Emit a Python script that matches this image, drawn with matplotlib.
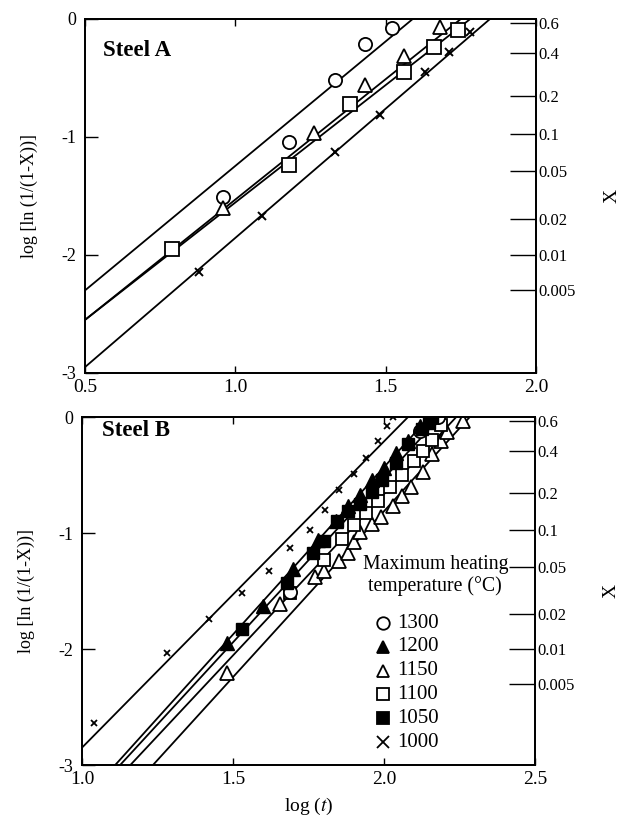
import numpy as np
import matplotlib
matplotlib.use("Agg")
import matplotlib.pyplot as plt

plt.rcParams['font.family'] = ['Liberation Serif', 'DejaVu Serif']
plt.rcParams['mathtext.fontset'] = 'stix'

# ---------------- Steel A ----------------
a_x_1300 = [0.96, 1.18, 1.33, 1.43, 1.52]
a_y_1300 = [-1.51, -1.04, -0.52, -0.21, -0.08]
a_x_1150 = [0.96, 1.26, 1.43, 1.56, 1.68]
a_y_1150 = [-1.60, -0.97, -0.56, -0.31, -0.07]
a_x_1100 = [0.79, 1.18, 1.38, 1.56, 1.66, 1.74]
a_y_1100 = [-1.95, -1.24, -0.72, -0.45, -0.24, -0.09]
a_x_1000 = [0.88, 1.09, 1.33, 1.48, 1.63, 1.71, 1.78]
a_y_1000 = [-2.14, -1.67, -1.13, -0.81, -0.45, -0.28, -0.11]

# fitted lines (slope, intercept) for 1300, 1150, 1100, 1000
a_fit_slope = [2.11, 2.04, 1.99, 2.19]
a_fit_intercept = [-3.355, -3.57, -3.545, -4.045]

# ---------------- Steel B ----------------
b_x_1300 = [1.69, 2.12, 2.18]
b_y_1300 = [-1.51, -0.12, 0.00]
b_x_1200 = [1.48, 1.60, 1.70, 1.78, 1.84, 1.88, 1.92, 1.96, 2.00, 2.04, 2.08, 2.12, 2.15]
b_y_1200 = [-1.95, -1.63, -1.31, -1.06, -0.90, -0.77, -0.67, -0.54, -0.44, -0.31, -0.21, -0.08, 0.00]
b_x_1150 = [1.48, 1.655, 1.77, 1.80, 1.85, 1.88, 1.90, 1.92, 1.96, 1.99, 2.03, 2.06, 2.09,
            2.13, 2.16, 2.19, 2.21, 2.26]
b_y_1150 = [-2.21, -1.61, -1.38, -1.33, -1.24, -1.17, -1.08, -0.99, -0.92, -0.86, -0.77,
            -0.68, -0.60, -0.47, -0.32, -0.21, -0.13, -0.03]
b_x_1100 = [1.69, 1.80, 1.86, 1.90, 1.94, 1.98, 2.02, 2.06, 2.10, 2.13, 2.16, 2.19]
b_y_1100 = [-1.52, -1.23, -1.05, -0.93, -0.83, -0.72, -0.60, -0.50, -0.38, -0.29, -0.20, -0.07]
b_x_1050 = [1.53, 1.68, 1.765, 1.80, 1.845, 1.88, 1.92, 1.96, 1.995, 2.04, 2.08, 2.125, 2.15, 2.16]
b_y_1050 = [-1.83, -1.43, -1.17, -1.07, -0.90, -0.81, -0.75, -0.65, -0.54, -0.40, -0.23, -0.10, -0.05, 0.00]
b_x_1000 = [1.04, 1.28, 1.42, 1.53, 1.62, 1.69, 1.755, 1.805, 1.85, 1.90, 1.94, 1.98, 2.01, 2.03]
b_y_1000 = [-2.64, -2.03, -1.74, -1.52, -1.33, -1.13, -0.97, -0.80, -0.63, -0.49, -0.35,
            -0.21, -0.08, 0.00]

# fitted lines (slope, intercept): 1000, 1200, 1050, 1100, 1150
b_fit_slope = [2.64, 2.885, 2.83, 2.78, 2.86]
b_fit_intercept = [-5.49, -6.202, -6.187, -6.225, -6.532]

legend_temps = ['1300', '1200', '1150', '1100', '1050', '1000']

# right-hand fraction transformed scale
x_frac_ticks = [0.6, 0.4, 0.2, 0.1, 0.05, 0.02, 0.01, 0.005]
x_frac_labels = ['0.6', '0.4', '0.2', '0.1', '0.05', '0.02', '0.01', '0.005']

FS_TICK = 13
FS_RIGHT = 12

fig = plt.figure(figsize=(6.28, 8.25), dpi=100)
ax_a = fig.add_axes([0.1354, 0.5479, 0.7181, 0.4291])
ax_b = fig.add_axes([0.1306, 0.0727, 0.7213, 0.4218])

open_kw = dict(linestyle='none', markerfacecolor='white', markeredgecolor='black',
               markeredgewidth=1.3, color='black')
fill_kw = dict(linestyle='none', color='black', markeredgecolor='black')


def style_axes(ax, xlim, xticks):
    ax.set_xlim(*xlim)
    ax.set_ylim(-3, 0)
    ax.set_xticks(xticks)
    ax.set_xticklabels([f"{t:.1f}" for t in xticks], fontsize=FS_TICK + 1)
    ax.set_yticks([0, -1, -2, -3])
    ax.set_yticklabels(['0', '-1', '-2', '-3'], fontsize=FS_TICK)
    ax.tick_params(axis='x', direction='in', top=True, length=5, width=1.0, pad=4)
    ax.tick_params(axis='y', direction='in', length=9, width=1.0, pad=6)
    for s in ax.spines.values():
        s.set_linewidth(1.3)
    ax.set_ylabel('log [ln (1/(1-X))]', fontsize=FS_TICK, labelpad=17)

    tw = ax.twinx()
    tw.set_ylim(-3, 0)
    pos = [np.log10(np.log(1.0 / (1.0 - v))) for v in x_frac_ticks]
    tw.set_yticks(pos)
    tw.set_yticklabels(x_frac_labels, fontsize=FS_RIGHT)
    tw.tick_params(axis='y', direction='in', length=19, width=1.0, pad=2)
    tw.set_ylabel('X', fontsize=FS_TICK + 1, labelpad=20)
    for s in tw.spines.values():
        s.set_linewidth(1.3)
    return tw


# ---------- Steel A panel ----------
for s, b in zip(a_fit_slope, a_fit_intercept):
    ax_a.axline((0, b), slope=s, color='black', lw=1.3)
ax_a.plot(a_x_1300, a_y_1300, marker='o', markersize=9.5, **open_kw)
ax_a.plot(a_x_1150, a_y_1150, marker='^', markersize=9.5, **open_kw)
ax_a.plot(a_x_1100, a_y_1100, marker='s', markersize=9.5, **open_kw)
ax_a.plot(a_x_1000, a_y_1000, marker='x', markersize=6, markeredgewidth=1.4, **fill_kw)
style_axes(ax_a, (0.5, 2.0), [0.5, 1.0, 1.5, 2.0])
ax_a.text(0.04, 0.912, 'Steel A', transform=ax_a.transAxes, fontsize=16.5,
          fontweight='bold', ha='left', va='center')

# ---------- Steel B panel ----------
for s, b in zip(b_fit_slope, b_fit_intercept):
    ax_b.axline((0, b), slope=s, color='black', lw=1.3)
ax_b.plot(b_x_1150, b_y_1150, marker='^', markersize=9.5, **open_kw)
ax_b.plot(b_x_1100, b_y_1100, marker='s', markersize=9, **open_kw)
ax_b.plot(b_x_1300, b_y_1300, marker='o', markersize=9.5, **open_kw)
ax_b.plot(b_x_1200, b_y_1200, marker='^', markersize=9.5, **fill_kw)
ax_b.plot(b_x_1050, b_y_1050, marker='s', markersize=8.5, **fill_kw)
ax_b.plot(b_x_1000, b_y_1000, marker='x', markersize=4.5, markeredgewidth=1.3, **fill_kw)
style_axes(ax_b, (1.0, 2.5), [1.0, 1.5, 2.0, 2.5])
ax_b.text(0.045, 0.96, 'Steel B', transform=ax_b.transAxes, fontsize=16.5,
          fontweight='bold', ha='left', va='center')
ax_b.set_xlabel('log ($\\it{t}$)', fontsize=FS_TICK + 1, labelpad=6)

# legend block
ax_b.text(0.78, 0.545, 'Maximum heating\ntemperature (\u00b0C)', transform=ax_b.transAxes,
          fontsize=14.2, ha='center', va='center', linespacing=1.15)
leg_markers = [('o', 'white'), ('^', 'black'), ('^', 'white'), ('s', 'white'),
               ('s', 'black'), ('x', 'black')]
leg_y0, leg_dy = 0.408, 0.0684
for i, ((m, fc), lab) in enumerate(zip(leg_markers, legend_temps)):
    yy = leg_y0 - i * leg_dy
    ax_b.plot([0.664], [yy], transform=ax_b.transAxes, marker=m, markersize=9,
              markerfacecolor=fc, markeredgecolor='black', markeredgewidth=1.3,
              color='black', linestyle='none', clip_on=False)
    ax_b.text(0.695, yy, lab, transform=ax_b.transAxes, fontsize=15,
              ha='left', va='center')

fig.savefig('out.png', dpi=100)
